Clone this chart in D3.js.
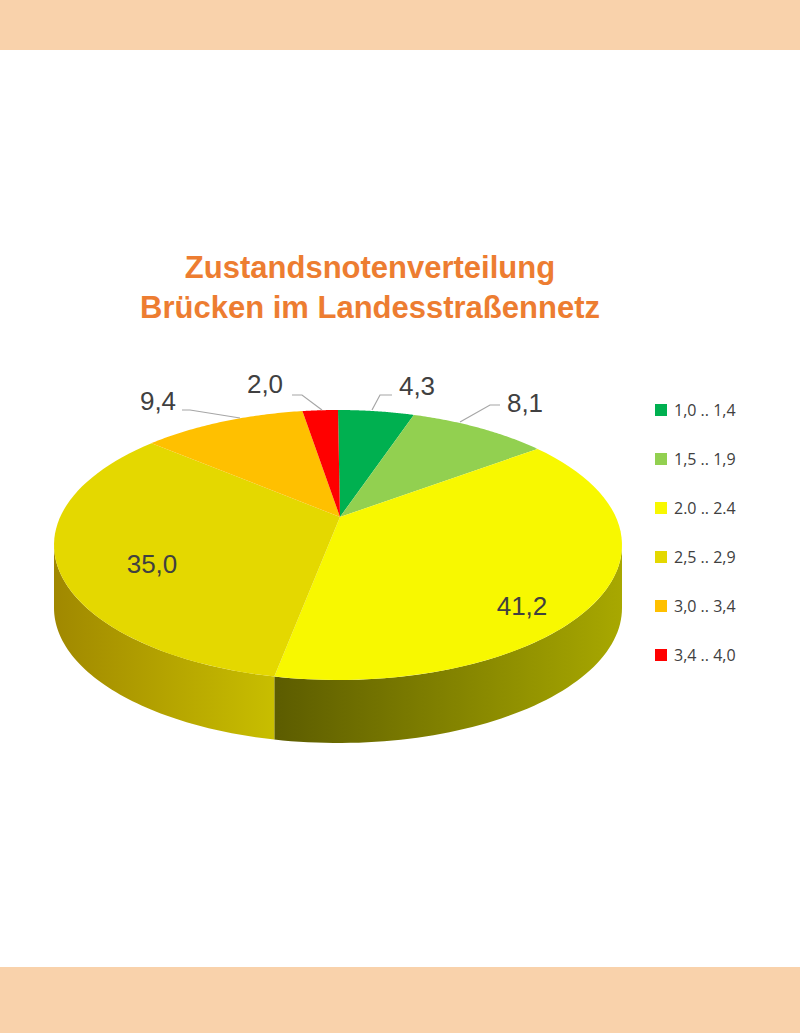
<!DOCTYPE html>
<html><head><meta charset="utf-8">
<script src="https://cdn.jsdelivr.net/npm/d3@7"></script>
<style>body{margin:0;background:#fff}svg{display:block}</style>
</head><body><svg id="c" width="800" height="1033"></svg>
<script>
// chart data
const classes = ['1,0 .. 1,4', '1,5 .. 1,9', '2.0 .. 2.4', '2,5 .. 2,9', '3,0 .. 3,4', '3,4 .. 4,0'];
const shares = [4.3, 8.1, 41.2, 35.0, 9.4, 2.0];
const labels = ['4,3', '8,1', '41,2', '35,0', '9,4', '2,0'];
const colors = ['#00b050', '#92d050', '#f8f800', '#e4d800', '#ffc000', '#ff0000'];
const sideColors = [['#008a3e', '#006a30'], ['#6a9a38', '#4f7a28'], ['#a8a800', '#5c5c00'], ['#c8be00', '#a08800'], ['#c89000', '#a07000'], ['#c00000', '#900000']];

const svg = d3.select('#c');
svg.append('rect').attr('width', 800).attr('height', 50).attr('fill', '#f9d2ab');
svg.append('rect').attr('y', 967).attr('width', 800).attr('height', 66).attr('fill', '#f9d2ab');

const title = svg.append('text').attr('text-anchor', 'middle')
  .attr('font-family', 'Liberation Sans, Arial').attr('font-weight', 'bold')
  .attr('font-size', 31).attr('fill', '#ed7d31');
title.append('tspan').attr('x', 370).attr('y', 278).text('Zustandsnotenverteilung');
title.append('tspan').attr('x', 370).attr('y', 318).text('Brücken im Landesstraßennetz');

// pseudo-3D pie
const cx = 338, cy = 545, rx = 284, ry = 135, depth = 63;
const apex = [340, 517];
const pie = d3.pie().sort(null).value(d => d)(shares);
const pt = (a, dy = 0) => [cx + rx * Math.sin(a), cy - ry * Math.cos(a) + dy];
const arcPts = (a0, a1, dy = 0) => d3.range(0, 61).map(i => pt(a0 + (a1 - a0) * i / 60, dy));

const defs = svg.append('defs');
const line = d3.line();

// side walls (front half: angle between PI/2 and 3PI/2)
pie.forEach((s, i) => {
  const a0 = Math.max(s.startAngle, Math.PI / 2), a1 = Math.min(s.endAngle, 3 * Math.PI / 2);
  if (a1 <= a0) return;
  const g = defs.append('linearGradient').attr('id', 'g' + i)
    .attr('gradientUnits', 'userSpaceOnUse')
    .attr('x1', pt(a0)[0]).attr('x2', pt(a1)[0]).attr('y1', 0).attr('y2', 0);
  g.append('stop').attr('offset', 0).attr('stop-color', sideColors[i][0]);
  g.append('stop').attr('offset', 1).attr('stop-color', sideColors[i][1]);
  const pts = arcPts(a0, a1).concat(arcPts(a0, a1, depth).reverse());
  svg.append('path').attr('d', line(pts) + 'Z').attr('fill', `url(#g${i})`);
});

// top faces
pie.forEach((s, i) => {
  const pts = [apex].concat(arcPts(s.startAngle, s.endAngle));
  svg.append('path').attr('d', line(pts) + 'Z').attr('fill', colors[i]);
});

// labels
const labelPos = [[417, 395], [525, 412], [522, 615], [152, 573], [158, 410], [265, 393]];
const leaders = [[[372, 410], [380, 395], [392, 395]], [[460, 422], [490, 405], [500, 405]], null, null,
  [[240, 418], [190, 410], [182, 410]], [[322, 410], [302, 395], [292, 395]]];
leaders.forEach(l => { if (l) svg.append('path').attr('d', line(l)).attr('fill', 'none').attr('stroke', '#a6a6a6').attr('stroke-width', 1.2); });
svg.selectAll('text.lbl').data(labels).join('text').attr('class', 'lbl')
  .attr('x', (d, i) => labelPos[i][0]).attr('y', (d, i) => labelPos[i][1])
  .attr('text-anchor', 'middle').attr('font-family', 'Liberation Sans, Arial')
  .attr('font-size', 26).attr('fill', '#404040').text(d => d);

// legend
const ly = d3.scalePoint().domain(classes).range([410, 655]);
const leg = svg.selectAll('g.leg').data(classes).join('g').attr('class', 'leg')
  .attr('transform', d => `translate(655,${ly(d)})`);
leg.append('rect').attr('y', -6).attr('width', 12).attr('height', 12).attr('fill', (d, i) => colors[i]);
leg.append('text').attr('x', 19).attr('y', 6).attr('font-family', 'Open Sans, Liberation Sans')
  .attr('font-size', 16).attr('fill', '#404040').text(d => d);
</script></body></html>
